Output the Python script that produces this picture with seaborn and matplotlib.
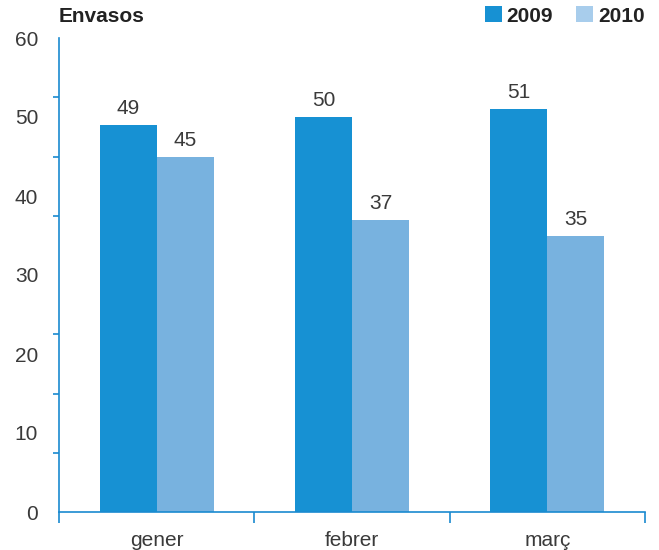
import matplotlib
matplotlib.use("Agg")
import matplotlib.pyplot as plt
from matplotlib.patches import Patch
import numpy as np
import pandas as pd
import seaborn as sns

# Data
months = ["gener", "febrer", "març"]
years = ["2009", "2010"]
values_2009 = [49, 50, 51]
values_2010 = [45, 37, 35]
y_ticks = [0, 10, 20, 30, 40, 50, 60]

df = pd.DataFrame({
    "mes": months * 2,
    "any": [years[0]] * 3 + [years[1]] * 3,
    "valor": values_2009 + values_2010,
})

bar_colors = {"2009": "#1791d3", "2010": "#78b2df"}
legend_colors = {"2009": "#1791d3", "2010": "#a8cdec"}
axis_color = "#1a8ad0"
text_color = "#3a3a3a"

sns.set_theme(style="white")
plt.rcParams["font.family"] = ["Liberation Sans", "DejaVu Sans"]

fig = plt.figure(figsize=(6.59, 5.5), dpi=100)
ax = fig.add_axes([59 / 659, 38 / 550, (645 - 59) / 659, (512 - 38) / 550])

sns.barplot(data=df, x="mes", y="valor", hue="any", order=months,
            hue_order=years, palette=bar_colors, width=0.585, gap=0,
            saturation=1, linewidth=0, edgecolor="none", ax=ax, legend=False)

for cont in ax.containers:
    ax.bar_label(cont, fmt="%d", padding=5, fontsize=15, color=text_color)

ax.set_xlim(-0.5, 2.5)
ax.set_ylim(0, 60)
ax.set_xlabel("")
ax.set_ylabel("")

# Spines
for side in ["top", "right"]:
    ax.spines[side].set_visible(False)
for side in ["left", "bottom"]:
    ax.spines[side].set_color(axis_color)
    ax.spines[side].set_linewidth(1.2)

# Y axis: labels every 10, tick marks every 7.5
ax.set_yticks(y_ticks)
ax.set_yticklabels([str(v) for v in y_ticks])
ax.set_yticks(np.linspace(0, 60, 9), minor=True)
ax.tick_params(axis="y", which="major", length=0, pad=15,
               labelsize=15, labelcolor=text_color)
ax.tick_params(axis="y", which="minor", length=4, width=1.2,
               color=axis_color, left=True, direction="out")

# X axis: labels centred, tick marks at category boundaries
ax.set_xticks(range(len(months)))
ax.set_xticklabels(months)
ax.set_xticks([-0.5, 0.5, 1.5, 2.5], minor=True)
ax.tick_params(axis="x", which="major", length=0, pad=14,
               labelsize=15, labelcolor=text_color)
ax.tick_params(axis="x", which="minor", length=8, width=1.2,
               color=axis_color, bottom=True, direction="out")

# Title
fig.text(59 / 659, 1 - 16 / 550, "Envasos", fontsize=15, fontweight="bold",
         color="#222222", ha="left", va="center")

# Legend
handles = [Patch(facecolor=legend_colors[y], edgecolor="none", label=y)
           for y in years]
leg = fig.legend(handles=handles, loc="upper right",
                 bbox_to_anchor=(653 / 659, 1 + 2 / 550), ncol=2, frameon=False,
                 handlelength=0.8, handleheight=0.8, handletextpad=0.25,
                 columnspacing=1.1, borderaxespad=0,
                 prop={"size": 15, "weight": "bold"})
for t in leg.get_texts():
    t.set_color("#222222")

fig.savefig("out.png", dpi=100)
